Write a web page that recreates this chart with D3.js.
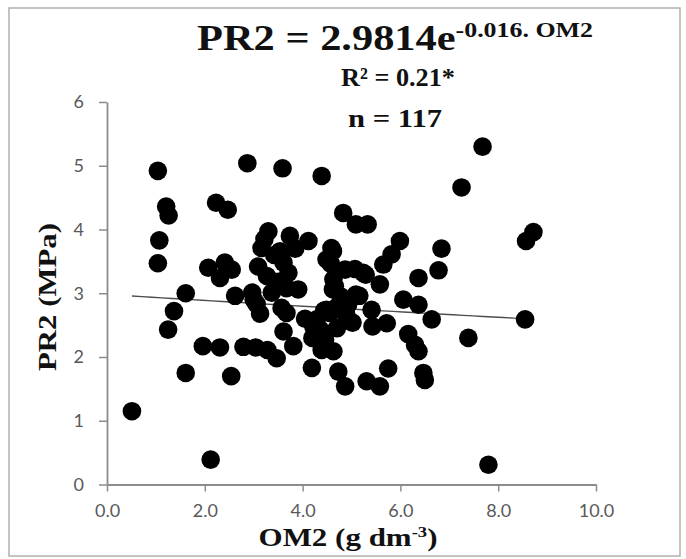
<!DOCTYPE html>
<html>
<head>
<meta charset="utf-8">
<script src="https://cdn.jsdelivr.net/npm/d3@7/dist/d3.min.js"></script>
<style>
  html, body { margin: 0; padding: 0; background: #ffffff; }
  svg { display: block; }
</style>
</head>
<body>
<svg id="chart" width="686" height="559"></svg>
<script>
// Organic matter (OM2, g dm-3) and penetration resistance (PR2, MPa), one entry per sample
const om2 = [
  0.51, 1.04, 1.07, 1.04, 1.21, 1.26, 1.37, 1.25, 1.61, 1.61,
  1.96, 2.12, 2.07, 2.41, 2.31, 2.55, 2.23, 2.47, 2.31, 2.54,
  2.62, 2.79, 2.87, 3.04, 3.28, 3.47, 2.97, 3.06, 3.13, 3.30,
  3.16, 3.09, 3.27, 3.37, 3.54, 3.61, 3.71, 3.67, 3.91, 3.57,
  3.61, 3.81, 3.67, 3.74, 3.59, 3.42, 3.50, 3.22, 4.12, 4.19,
  4.22, 4.39, 4.39, 4.59, 4.49, 4.63, 4.62, 4.56, 4.63, 4.73,
  4.87, 4.83, 5.09, 5.33, 4.87, 5.24, 5.09, 5.41, 4.49, 5.99,
  5.82, 5.65, 6.84, 6.78, 6.37, 5.58, 6.06, 6.37, 4.90, 5.43,
  5.72, 6.64, 6.16, 6.30, 6.37, 6.47, 6.50, 5.75, 5.58, 5.31,
  4.46, 4.29, 4.36, 7.68, 7.25, 8.57, 8.72, 8.55, 7.39, 7.80,
  4.44, 4.71, 4.89, 5.02, 4.93, 5.16, 4.58, 4.62, 4.66, 5.07,
  5.29, 4.20, 4.78, 3.85, 4.05, 3.00, 4.70
];
const pr2 = [
  1.15, 4.92, 3.83, 3.47, 4.36, 4.22, 2.72, 2.43, 3.00, 1.75,
  2.17, 0.39, 3.40, 3.48, 3.24, 3.37, 4.42, 4.31, 2.15, 1.70,
  2.96, 2.16, 5.04, 2.15, 2.11, 1.98, 3.01, 2.83, 2.68, 3.97,
  3.71, 3.42, 3.27, 3.01, 3.66, 3.48, 3.32, 3.08, 3.06, 2.77,
  2.40, 2.17, 2.69, 3.90, 4.96, 3.60, 3.18, 3.85, 3.82, 1.83,
  2.48, 2.11, 4.84, 3.71, 3.53, 3.22, 3.06, 2.69, 2.09, 1.77,
  1.54, 4.26, 4.08, 4.08, 3.37, 3.32, 2.98, 2.74, 2.74, 3.82,
  3.61, 3.45, 3.70, 3.36, 3.24, 3.14, 2.90, 2.82, 2.59, 2.48,
  2.53, 2.59, 2.36, 2.19, 2.09, 1.75, 1.64, 1.82, 1.54, 1.62,
  2.27, 2.59, 2.43, 5.30, 4.66, 3.82, 3.96, 2.59, 2.30, 0.31,
  2.73, 2.79, 2.68, 2.54, 2.82, 2.96, 3.46, 3.66, 3.11, 3.38,
  3.29, 2.30, 2.95, 3.70, 2.60, 2.90, 2.45
];

const xTickValues = [0, 2, 4, 6, 8, 10];
const yTickValues = [0, 1, 2, 3, 4, 5, 6];

// Exponential fit PR2 = a * exp(b * OM2)
const fitA = 2.9814;
const fitB = -0.016;

const titleMain = "PR2 = 2.9814e";
const titleExp = "-0.016. OM2";
const r2Label = "R\u00B2 = 0.21*";
const nLabel = "n = 117";
const xTitle = "OM2 (g dm";
const xTitleExp = "-3";
const yTitle = "PR2 (MPa)";

const svg = d3.select("#chart");
const serif = "'Liberation Serif', 'Times New Roman', serif";
const sans = "Lato, 'Open Sans', 'Liberation Sans', sans-serif";

svg.append("rect")
  .attr("x", 0).attr("y", 0).attr("width", 686).attr("height", 559)
  .attr("fill", "#ffffff");

// outer frame
svg.append("rect")
  .attr("x", 9).attr("y", 8).attr("width", 671).attr("height", 548)
  .attr("fill", "none").attr("stroke", "#b0b0b0").attr("stroke-width", 1.5);

const x = d3.scaleLinear().domain([0, 10]).range([107, 596]);
const y = d3.scaleLinear().domain([0, 6]).range([484.5, 102]);

const axisColor = "#8c8c8c";
const labelColor = "#595959";

const xAxis = svg.append("g")
  .attr("transform", `translate(0,${y(0)})`)
  .call(d3.axisBottom(x).tickValues(xTickValues).tickFormat(d3.format(".1f"))
    .tickSize(7).tickSizeOuter(0).tickPadding(8));

const yAxis = svg.append("g")
  .attr("transform", `translate(${x(0)},0)`)
  .call(d3.axisLeft(y).tickValues(yTickValues).tickFormat(d3.format("d"))
    .tickSize(8).tickSizeOuter(0).tickPadding(15));

[xAxis, yAxis].forEach(g => {
  g.select(".domain").attr("stroke", axisColor).attr("stroke-width", 1.8);
  g.selectAll(".tick line").attr("stroke", axisColor).attr("stroke-width", 1.5);
  g.selectAll(".tick text")
    .attr("fill", labelColor)
    .style("font-family", sans)
    .style("font-size", "18px");
});
xAxis.selectAll(".tick text").attr("dy", "0.95em");

// fitted curve over the observed OM2 range
const [xMin, xMax] = d3.extent(om2);
const curveXs = d3.range(0, 41).map(i => xMin + (xMax - xMin) * i / 40);
svg.append("path")
  .datum(curveXs)
  .attr("fill", "none")
  .attr("stroke", "#4d4d4d")
  .attr("stroke-width", 1.4)
  .attr("d", d3.line().x(d => x(d)).y(d => y(fitA * Math.exp(fitB * d))));

// sample points
svg.append("g")
  .selectAll("circle")
  .data(om2.map((v, i) => [v, pr2[i]]))
  .join("circle")
  .attr("cx", d => x(d[0]))
  .attr("cy", d => y(d[1]))
  .attr("r", 9.3)
  .attr("fill", "#000000");

// place a label centred at (cx, baseline) and stretch it horizontally to a given width
function placeLabel(cx, baseline, width, rotate, build) {
  const g = svg.append("g")
    .attr("transform", `translate(${cx},${baseline})` + (rotate ? ` rotate(${rotate})` : ""));
  const t = g.append("text")
    .attr("x", 0).attr("y", 0)
    .attr("text-anchor", "middle")
    .attr("fill", "#111111")
    .style("font-family", serif)
    .style("font-weight", "bold");
  build(t);
  const w = t.node().getComputedTextLength();
  if (w > 0) t.attr("transform", `scale(${width / w},1)`);
  return t;
}

placeLabel(395, 50, 396, 0, t => {
  t.style("font-size", "36px");
  t.append("tspan").text(titleMain);
  t.append("tspan").attr("dy", -13).style("font-size", "22px").text(titleExp);
});

placeLabel(398, 86, 114, 0, t => {
  t.style("font-size", "26px").text(r2Label);
});

placeLabel(395, 127, 94, 0, t => {
  t.style("font-size", "26px").text(nLabel);
});

placeLabel(348, 546, 179, 0, t => {
  t.style("font-size", "25px");
  t.append("tspan").text(xTitle);
  t.append("tspan").attr("dy", -9).style("font-size", "15px").text(xTitleExp);
  t.append("tspan").attr("dy", 9).text(")");
});

placeLabel(56, 297, 148, -90, t => {
  t.style("font-size", "26px").text(yTitle);
});
</script>
</body>
</html>
